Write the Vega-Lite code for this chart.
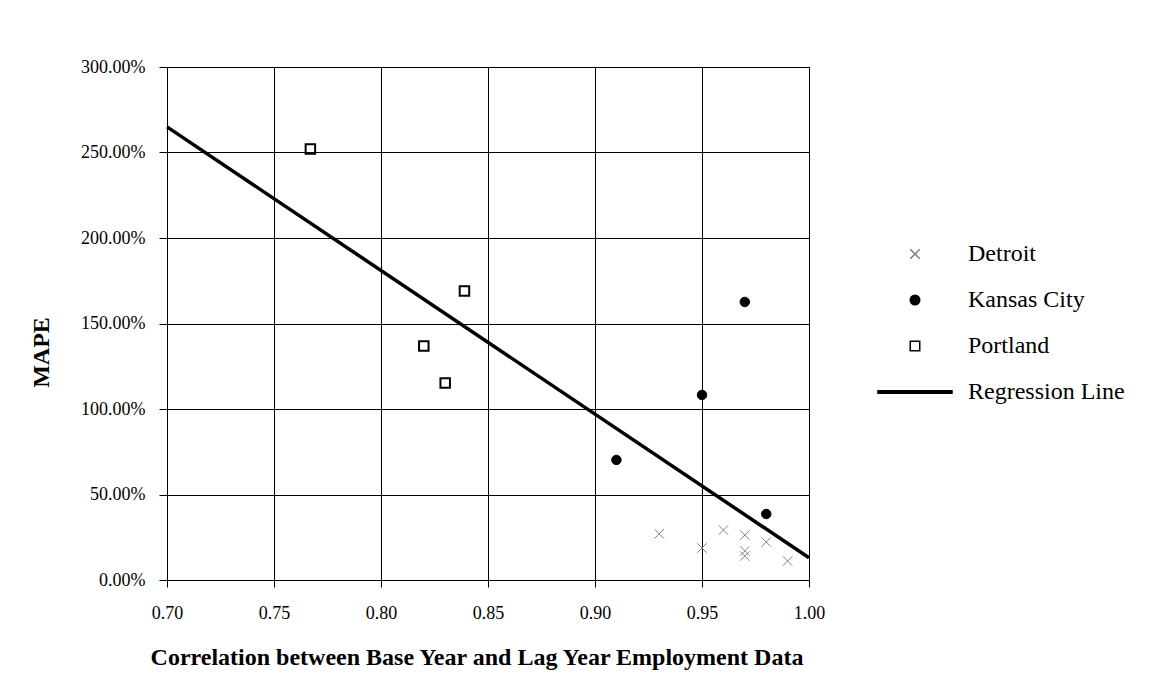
{
  "$schema": "https://vega.github.io/schema/vega-lite/v6.json",
  "width": 642,
  "height": 513,
  "autosize": {"type": "none"},
  "padding": {"left": 167, "top": 67, "right": 351, "bottom": 114},
  "background": "white",
  "config": {
    "font": "Liberation Serif",
    "view": {"stroke": "black", "strokeWidth": 1},
    "axis": {
      "gridColor": "black", "gridOpacity": 1, "gridWidth": 1,
      "domainColor": "black", "domainWidth": 1,
      "tickColor": "black", "tickWidth": 1,
      "labelColor": "black", "labelFont": "Liberation Serif", "labelFontSize": 18,
      "labelFlush": false,
      "titleColor": "black", "titleFont": "Liberation Serif", "titleFontSize": 24, "titleFontWeight": "bold"
    }
  },
  "data": {
    "values": [
      {"series": "Detroit", "corr": 0.93, "mape": 0.27},
      {"series": "Detroit", "corr": 0.95, "mape": 0.187},
      {"series": "Detroit", "corr": 0.96, "mape": 0.292},
      {"series": "Detroit", "corr": 0.97, "mape": 0.263},
      {"series": "Detroit", "corr": 0.97, "mape": 0.17},
      {"series": "Detroit", "corr": 0.97, "mape": 0.14},
      {"series": "Detroit", "corr": 0.98, "mape": 0.222},
      {"series": "Detroit", "corr": 0.99, "mape": 0.111},
      {"series": "Kansas City", "corr": 0.91, "mape": 0.702},
      {"series": "Kansas City", "corr": 0.95, "mape": 1.082},
      {"series": "Kansas City", "corr": 0.97, "mape": 1.626},
      {"series": "Kansas City", "corr": 0.98, "mape": 0.386},
      {"series": "Portland", "corr": 0.767, "mape": 2.52},
      {"series": "Portland", "corr": 0.82, "mape": 1.368},
      {"series": "Portland", "corr": 0.83, "mape": 1.152},
      {"series": "Portland", "corr": 0.839, "mape": 1.69},
      {"series": "Regression Line", "corr": 0.70, "mape": 2.65},
      {"series": "Regression Line", "corr": 1.00, "mape": 0.13}
    ]
  },
  "encoding": {
    "x": {
      "field": "corr", "type": "quantitative",
      "scale": {"domain": [0.7, 1.0], "nice": false, "zero": false},
      "axis": {
        "values": [0.7, 0.75, 0.8, 0.85, 0.9, 0.95, 1.0],
        "format": ".2f", "tickSize": 7, "labelPadding": 17,
        "title": "Correlation between Base Year and Lag Year Employment Data",
        "titleX": 309.5, "titleY": 84, "titleBaseline": "alphabetic", "titleAnchor": null, "titleAlign": "center"
      }
    },
    "y": {
      "field": "mape", "type": "quantitative",
      "scale": {"domain": [0, 3], "nice": false},
      "axis": {
        "values": [0, 0.5, 1, 1.5, 2, 2.5, 3],
        "format": ".2%", "tickSize": 8, "labelPadding": 14,
        "title": "MAPE",
        "titleX": -119, "titleY": 285, "titleBaseline": "alphabetic", "titleAlign": "center", "titleAngle": -90
      }
    }
  },
  "layer": [
    {
      "transform": [{"filter": "datum.series === 'Regression Line'"}],
      "mark": {"type": "line", "color": "black", "strokeWidth": 3.5},
      "encoding": {}
    },
    {
      "transform": [{"filter": "datum.series !== 'Regression Line'"}],
      "mark": {"type": "point", "opacity": 1, "size": 90},
      "encoding": {
        "shape": {
          "field": "series", "type": "nominal",
          "scale": {
            "domain": ["Detroit", "Kansas City", "Portland", "Regression Line"],
            "range": ["M-1,-1L1,1M-1,1L1,-1", "circle", "square", "M-7.8,-0.27L7.8,-0.27L7.8,0.27L-7.8,0.27Z"]
          },
          "legend": {
            "title": null,
            "orient": "none",
            "legendX": 736,
            "legendY": 175,
            "padding": 0,
            "symbolSize": 90,
            "labelFont": "Liberation Serif",
            "labelFontSize": 24,
            "labelColor": "black",
            "labelOffset": 41,
            "rowPadding": 22,
            "encode": {
              "symbols": {
                "update": {
                  "strokeWidth": {"signal": "datum.value === 'Portland' ? 2 : 1"},
                  "opacity": {"value": 1}
                }
              }
            }
          }
        },
        "stroke": {
          "field": "series", "type": "nominal",
          "scale": {
            "domain": ["Detroit", "Kansas City", "Portland", "Regression Line"],
            "range": ["#808080", "black", "black", "black"]
          }
        },
        "fill": {
          "field": "series", "type": "nominal",
          "scale": {
            "domain": ["Detroit", "Kansas City", "Portland", "Regression Line"],
            "range": ["transparent", "black", "transparent", "black"]
          }
        },
        "strokeWidth": {
          "condition": {"test": "datum.series === 'Portland' || datum.value === 'Portland'", "value": 2},
          "value": 1
        }
      }
    }
  ]
}
